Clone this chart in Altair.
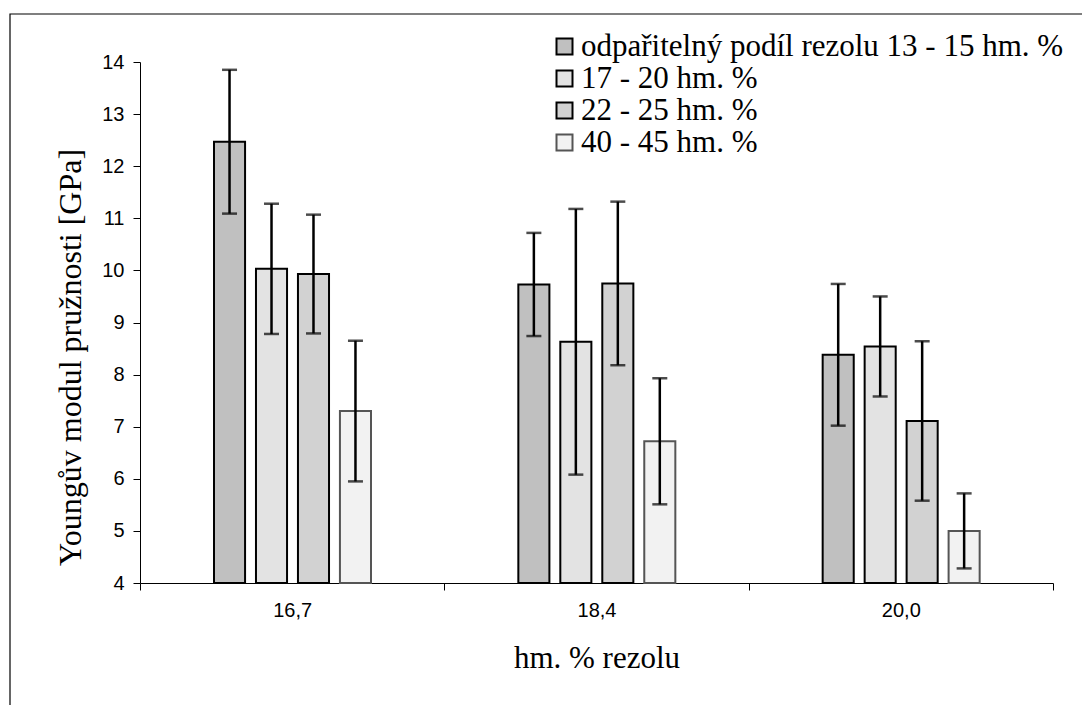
import altair as alt
import pandas as pd

categories = ["16,7", "18,4", "20,0"]
series = [
    "odpařitelný podíl rezolu 13 - 15 hm. %",
    "17 - 20 hm. %",
    "22 - 25 hm. %",
    "40 - 45 hm. %",
]
# mean values per series (over categories)
s1 = [12.47, 9.73, 8.38]
s2 = [10.03, 8.63, 8.54]
s3 = [9.93, 9.75, 7.11]
s4 = [7.30, 6.72, 5.00]
# error (+/-) per series
e1 = [1.38, 0.99, 1.36]
e2 = [1.25, 2.55, 0.96]
e3 = [1.14, 1.57, 1.53]
e4 = [1.35, 1.21, 0.72]
y_ticks = [4, 5, 6, 7, 8, 9, 10, 11, 12, 13, 14]

rows = []
for s, vals, errs in zip(series, [s1, s2, s3, s4], [e1, e2, e3, e4]):
    for c, v, e in zip(categories, vals, errs):
        rows.append({"cat": c, "series": s, "value": v, "err": e})
df = pd.DataFrame(rows)

fills = ["#c0c0c0", "#e3e3e3", "#d2d2d2", "#f2f2f2"]
strokes = ["black", "black", "black", "#555555"]
stroke_widths = [2, 2, 2, 1]

serif = "Liberation Serif"
sans = "Liberation Sans"

x_enc = alt.X(
    "cat:N",
    sort=categories,
    scale=alt.Scale(paddingInner=0, paddingOuter=0),
    axis=alt.Axis(
        title="hm. % rezolu",
        labelAngle=0,
        tickBand="extent",
        tickSize=7,
        labelPadding=10,
        titlePadding=23,
    ),
)
xoff_enc = alt.XOffset(
    "series:N",
    sort=series,
    scale=alt.Scale(range=[74, 231], paddingInner=0.26, paddingOuter=0),
)
y_scale = alt.Scale(domain=[4, 14], zero=False, nice=False)

base = alt.Chart(df).encode(x=x_enc, xOffset=xoff_enc)

bars = base.mark_bar().encode(
    y=alt.Y(
        "value:Q",
        scale=y_scale,
        axis=alt.Axis(
            title="Youngův modul pružnosti [GPa]",
            values=y_ticks,
            tickSize=7,
            labelPadding=9,
            titlePadding=14,
            titleY=295,
            titleFontSize=32,
        ),
    ),
    y2=alt.datum(4),
    fill=alt.Fill(
        "series:N",
        sort=series,
        scale=alt.Scale(domain=series, range=fills),
        legend=alt.Legend(
            title=None,
            orient="none",
            legendX=409,
            legendY=-31,
            symbolType="square",
            symbolSize=256,
            symbolStrokeColor="black",
            symbolStrokeWidth=1.5,
            symbolOpacity=1,
            labelFont=serif,
            labelFontSize=31,
            labelColor="black",
            labelLimit=0,
            labelOffset=1,
            rowPadding=0,
        ),
    ),
    stroke=alt.Stroke(
        "series:N", scale=alt.Scale(domain=series, range=strokes), legend=None
    ),
    strokeWidth=alt.StrokeWidth(
        "series:N", scale=alt.Scale(domain=series, range=stroke_widths), legend=None
    ),
)

err = base.transform_calculate(
    lo="datum.value - datum.err", hi="datum.value + datum.err"
)
rules = err.mark_rule(color="black", strokeWidth=2.5).encode(
    y=alt.Y("lo:Q", scale=y_scale), y2="hi:Q"
)
cap_lo = err.mark_tick(color="black", thickness=2.5, size=15).encode(
    y=alt.Y("lo:Q", scale=y_scale)
)
cap_hi = err.mark_tick(color="black", thickness=2.5, size=15).encode(
    y=alt.Y("hi:Q", scale=y_scale)
)

frame = alt.Chart(pd.DataFrame({"k": [0]})).mark_rect(
    filled=False, stroke="black", strokeWidth=1.2
).encode(
    x=alt.value(-130), y=alt.value(-48), x2=alt.value(1200), y2=alt.value(900)
)

chart = (
    alt.layer(frame, bars, rules, cap_lo, cap_hi)
    .resolve_scale(y="shared")
    .properties(
        width=913,
        height=521,
        autosize=alt.AutoSizeParams(type="none"),
        padding={"left": 132, "top": 54, "right": 29, "bottom": 122},
    )
    .configure_view(stroke=None)
    .configure_axis(
        domainColor="black",
        domainWidth=1,
        tickColor="black",
        tickWidth=1,
        grid=False,
        labelFont=sans,
        labelFontSize=20,
        labelColor="black",
        titleFont=serif,
        titleFontSize=31,
        titleFontWeight="normal",
        titleColor="black",
    )
    .configure_legend(
        labelFont=serif,
        labelFontSize=31,
        labelColor="black",
        labelLimit=0,
    )
)

chart.save("out.html", embed_options={"renderer": "svg", "actions": False})
